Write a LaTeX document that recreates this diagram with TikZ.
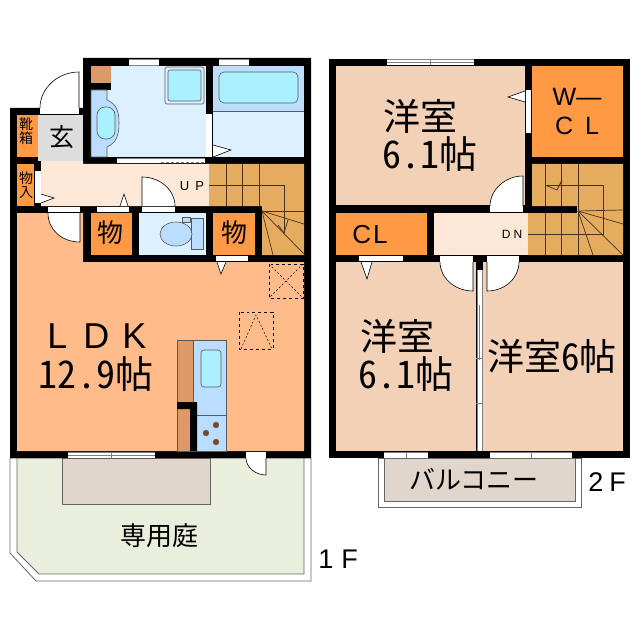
\documentclass[tikz,border=0pt]{standalone}
\usepackage{fontspec}
\setmainfont{Noto Sans CJK JP}[RawFeature=+hwid]
\newfontfamily\latinfont{Liberation Sans}
\definecolor{ldkcol}{HTML}{FFBC8A}
\definecolor{roomcol}{HTML}{F2D1B6}
\definecolor{hallcol}{HTML}{FDE8D8}
\definecolor{closetcol}{HTML}{FF9944}
\definecolor{staircol}{HTML}{E5AB5E}
\definecolor{wetcol}{HTML}{DDF0FF}
\definecolor{pancol}{HTML}{BBDDFF}
\definecolor{watercol}{HTML}{AAF0FF}
\definecolor{countercol}{HTML}{DD9966}
\definecolor{deckcol}{HTML}{E0D6CC}
\definecolor{gardencol}{HTML}{EAEEDD}
\definecolor{entrycol}{HTML}{DDDDDD}
\definecolor{burnercol}{HTML}{884411}
\newcommand{\plansize}[1]{\fontsize{#1bp}{#1bp}\selectfont}
\tikzset{
  doorleaf/.style={draw=black,fill=white,line width=0.6pt},
  gap/.style={fill=white},
  pane/.style={draw=gray,line width=0.7pt},
  fixture/.style={draw=gray!70!black,line width=0.6pt},
  tread/.style={draw=black!70!staircol,line width=0.7pt},
  hidden/.style={draw=black,dashed,line width=0.7pt},
  label/.style={inner sep=0pt,text=black}
}
\begin{document}
\begin{tikzpicture}[x=1bp,y=-1bp]
\useasboundingbox (0,0) rectangle (640,640);

% garden and balcony
\draw [gray!80!black,fill=white,line width=0.8pt] (10,458) -- (10,553) -- (36,581) -- (311,581) -- (311,458) -- cycle;
\draw [gray!80!black,fill=gardencol,line width=0.8pt] (17,458) -- (17,552) -- (39,574) -- (304,574) -- (304,458) -- cycle;
\draw [gray!80!black,fill=deckcol,line width=0.8pt] (62,458) rectangle (210,504);
\draw [gray!80!black,fill=white,line width=0.8pt] (378,458) rectangle (581,507);
\draw [gray!80!black,fill=deckcol,line width=0.8pt] (384,458) rectangle (575,501);

% walls
\fill [black] (83,58) -- (311,58) -- (311,458) -- (10,458) -- (10,108) -- (83,108) -- cycle;
\fill [black] (329,59) rectangle (630,458);

% 1F rooms
\fill [wetcol] (91,66) rectangle (206,157);
\fill [wetcol] (213,66) rectangle (304,157);
\fill [pancol] (213,66) rectangle (304,111);
\draw [fixture] (213,111) -- (304,111);
\fill [entrycol] (38,115) rectangle (83,161);
\fill [closetcol] (17,115) rectangle (38,157);
\fill [closetcol] (17,164) rectangle (34,206);
\fill [hallcol] (41,161) -- (83,161) -- (83,164) -- (210,164) -- (210,206) -- (41,206) -- cycle;
\fill [closetcol] (91,213) rectangle (132,255);
\fill [wetcol] (139,213) rectangle (206,255);
\fill [closetcol] (213,213) rectangle (255,255);
\fill [ldkcol] (17,213) -- (83,213) -- (83,262) -- (304,262) -- (304,451) -- (17,451) -- cycle;
\fill [staircol] (209,164) -- (304,164) -- (304,255) -- (262,255) -- (262,206) -- (209,206) -- cycle;

% 2F rooms
\fill [roomcol] (336,66) rectangle (525,205);
\fill [closetcol] (532,66) rectangle (623,157);
\fill [closetcol] (336,213) rectangle (427,255);
\fill [hallcol] (434,213) rectangle (528,255);
\fill [roomcol] (336,262) rectangle (476,451);
\fill [roomcol] (483,262) rectangle (623,451);
\fill [staircol] (532,164) -- (623,164) -- (623,255) -- (528,255) -- (528,213) -- (577,213) -- (577,206) -- (532,206) -- cycle;

% 1F fixtures
\fill [countercol] (91,66) rectangle (111,83);
\fill [black] (91,83) rectangle (111,90);
\draw [fixture,fill=pancol] (91,90) -- (107,90) -- (107,100) .. controls (116,104) and (119,110) .. (119,123) .. controls (119,136) and (116,143) .. (107,147) -- (107,157) -- (91,157) -- cycle;
\draw [fixture,fill=watercol,rounded corners=8bp] (97,107) rectangle (115,139);
\draw [fixture,fill=wetcol,rounded corners=2bp] (165,67) rectangle (204,104);
\draw [fixture,fill=watercol,rounded corners=2bp] (168,70) rectangle (201,101);
\draw [fixture,fill=watercol,rounded corners=5bp] (219,72) rectangle (298,103);
\draw [fixture,fill=pancol] (191,218) rectangle (203,249);
\draw [fixture,fill=pancol] (182,217) rectangle (190,222);
\draw [fixture,fill=pancol] (176,234) ellipse (16 and 12);

% kitchen
\draw [fixture,fill=countercol] (177,340) rectangle (193,451);
\draw [fixture,fill=pancol] (193,340) rectangle (226,451);
\draw [fixture,fill=watercol,rounded corners=3bp] (201,350) rectangle (221,387);
\draw [fixture] (197,415) -- (226,415);
\fill [black] (177,402) -- (197,402) -- (197,451) -- (190,451) -- (190,409) -- (177,409) -- cycle;
\draw [fixture,fill=burnercol] (216,425) circle (2.8);
\draw [fixture,fill=burnercol] (206,433) circle (2.8);
\draw [fixture,fill=burnercol] (216,442) circle (2.8);

% hidden lines
\draw [hidden] (269,264) rectangle (303,298);
\draw [hidden,dash pattern=on 2pt off 2pt,line width=0.5pt] (269,264) -- (303,298) (303,264) -- (269,298);
\draw [hidden] (239,312) rectangle (273,349);
\draw [hidden,dash pattern=on 2pt off 2pt,line width=0.5pt] (241,349) -- (256,315) -- (272,349);

% 1F stairs
\draw [tread] (226,164) -- (226,206);
\draw [tread] (242,164) -- (242,206);
\draw [tread] (259,164) -- (259,206);
\draw [tread] (209,185) -- (284,185) -- (284,233);
\draw [tread] (278,225) -- (284,233) -- (288,220);
\draw [tread] (262,211) -- (304,211);
\draw [tread] (262,211) -- (304,224);
\draw [tread] (262,211) -- (304,254);
\draw [tread] (262,211) -- (273,255);

% 2F stairs
\draw [tread] (545,164) -- (545,206);
\draw [tread] (561,164) -- (561,206);
\draw [tread] (578,164) -- (578,213);
\draw [tread] (545,213) -- (545,255);
\draw [tread] (561,213) -- (561,255);
\draw [tread] (578,211) -- (578,255);
\draw [tread] (545,185) -- (603,185) -- (603,234) -- (528,234);
\draw [tread] (545,185) -- (557,190) -- (562,180);
\draw [tread] (578,211) -- (623,210);
\draw [tread] (578,211) -- (623,224);
\draw [tread] (578,211) -- (623,255);
\draw [tread] (578,211) -- (593,255);

% doors 1F
\fill [gap] (40,108) rectangle (79,114);
\draw [doorleaf] (40,108) .. controls (40,88) and (58,72) .. (79,72) -- (79,108);
\fill [gap] (35,171) rectangle (41,203);
\draw [doorleaf] (41,194) -- (54,198) -- (41,203);
\fill [gap] (206,114) rectangle (212,157);
\draw [doorleaf] (213,145) -- (231,150) -- (213,157);
\fill [gap] (48,207) rectangle (80,212);
\draw [doorleaf] (48,213) .. controls (48,230) and (62,242) .. (80,242) -- (80,213);
\fill [gap] (97,207) rectangle (129,212);
\draw [doorleaf] (120,206) -- (124,194) -- (128,206);
\fill [gap] (142,207) rectangle (175,212);
\draw [doorleaf] (142,206) -- (142,177) .. controls (160,177) and (175,190) .. (175,206);
\fill [gap] (216,256) rectangle (248,261);
\draw [doorleaf] (217,262) -- (221,274) -- (226,262);
\fill [gap] (246,452) rectangle (266,458);
\draw [doorleaf] (246,458) .. controls (246,467) and (255,475) .. (266,475) -- (266,458);

% doors 2F
\fill [gap] (526,90) rectangle (531,133);
\draw [doorleaf] (525,91) -- (508,97) -- (525,102);
\fill [gap] (490,206) rectangle (523,212);
\draw [doorleaf] (490,206) .. controls (490,190) and (505,176) .. (523,176) -- (523,206);
\fill [gap] (359,256) rectangle (403,261);
\draw [doorleaf] (361,262) -- (367,279) -- (372,262);
\fill [gap] (440,256) rectangle (473,262);
\draw [doorleaf] (440,262) .. controls (440,278) and (455,291) .. (473,291) -- (473,262);
\fill [gap] (487,256) rectangle (519,262);
\draw [doorleaf] (519,262) .. controls (519,278) and (505,291) .. (487,291) -- (487,262);

% sliding doors and windows
\fill [gap] (117,158) rectangle (205,163);
\draw [pane] (117,158) -- (205,158);
\draw [pane,densely dashed] (161,162) -- (205,162);
\fill [gap] (129,59) rectangle (159,65);
\draw [pane] (129,59) -- (159,59) (129,65) -- (159,65);
\fill [gap] (219,59) rectangle (249,65);
\draw [pane] (219,59) -- (249,59) (219,65) -- (249,65);
\fill [gap] (68,452) rectangle (155,458);
\draw [pane] (68,452) -- (155,452) (68,455) -- (155,455) (111,452) -- (111,458);
\fill [gap] (387,59) rectangle (474,65);
\draw [pane] (387,59) -- (474,59) (387,62) -- (474,62) (430,59) -- (430,65);
\fill [gap] (384,452) rectangle (428,458);
\draw [pane] (384,452) -- (428,452) (406,452) -- (406,458);
\fill [gap] (490,452) rectangle (572,458);
\draw [pane] (490,452) -- (572,452) (531,452) -- (531,458);
\fill [gap] (477,270) rectangle (482,451);
\draw [pane] (477,270) -- (477,451) (482,270) -- (482,451) (479,305) -- (479,360) (476,358) -- (483,358) (476,403) -- (483,403);

% labels 1F
\node (genkan) at (62,137)[label] {\plansize{25}玄};
\node (shoebox1) at (26,124)[label] {\plansize{14}靴};
\node (shoebox2) at (26,138)[label] {\plansize{14}箱};
\node (store1) at (26,178)[label] {\plansize{14}物};
\node (store2) at (26,193)[label] {\plansize{14}入};
\node (up) at (192,186)[label] {\latinfont\plansize{13}U\hspace{6bp}P};
\node (storeA) at (110,233)[label] {\plansize{26}物};
\node (storeB) at (234,233)[label] {\plansize{26}物};
\node (ldk) at (97,336)[label] {\latinfont\plansize{36}L\hspace{16bp}D\hspace{13bp}K};
\node (ldksize) at (96,374)[label] {\plansize{38}12.9帖};
\node (garden) at (159,536)[label] {\plansize{26}専用庭};
\node (floorA) at (338,559)[label] {\latinfont\plansize{27}1\hspace{8bp}F};

% labels 2F
\node (roomA) at (420,116)[label] {\plansize{37}洋室};
\node (roomAsize) at (430,154)[label] {\plansize{38}6.1帖};
\node (wcl1) at (577,97)[label] {\latinfont\plansize{25}W—};
\node (wcl2) at (577,126)[label] {\latinfont\plansize{25}C\hspace{12bp}L};
\node (cl) at (370,235)[label] {\latinfont\plansize{26}C\hspace{2bp}L};
\node (dn) at (512,234)[label] {\latinfont\plansize{12}D\hspace{3bp}N};
\node (roomB) at (397,336)[label] {\plansize{37}洋室};
\node (roomBsize) at (406,374)[label] {\plansize{38}6.1帖};
\node (roomC) at (552,356)[label] {\plansize{37}洋室6帖};
\node (balcony) at (474,479)[label] {\plansize{26}バルコニー};
\node (floorB) at (607,482)[label] {\latinfont\plansize{27}2\hspace{6bp}F};
\end{tikzpicture}
\end{document}
